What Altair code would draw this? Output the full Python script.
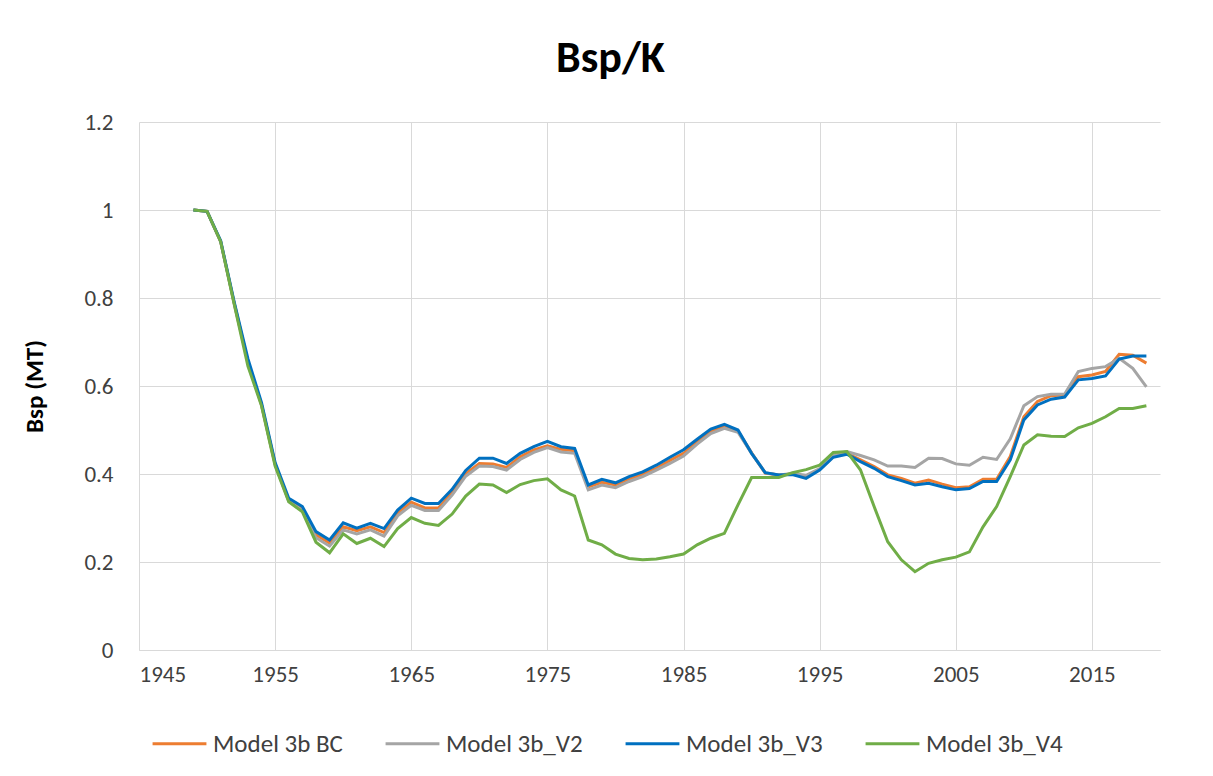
import altair as alt
import pandas as pd

years = list(range(1949, 2020))

series_names = ["Model 3b BC", "Model 3b_V2", "Model 3b_V3", "Model 3b_V4"]
series_colors = ["#ED7D31", "#A5A5A5", "#0070C0", "#70AD47"]

bc = [1.0, 0.997, 0.928, 0.787, 0.655, 0.557, 0.422, 0.34, 0.32, 0.262,
      0.243, 0.28, 0.271, 0.28, 0.267, 0.311, 0.336, 0.323, 0.323, 0.358,
      0.401, 0.424, 0.423, 0.415, 0.439, 0.455, 0.464, 0.456, 0.453, 0.371,
      0.381, 0.375, 0.388, 0.4, 0.413, 0.431, 0.447, 0.473, 0.497, 0.508,
      0.497, 0.448, 0.402, 0.398, 0.4, 0.393, 0.41, 0.44, 0.447, 0.432,
      0.417, 0.398, 0.39, 0.379, 0.386, 0.377, 0.369, 0.371, 0.388, 0.388,
      0.44, 0.53, 0.565, 0.578, 0.58, 0.621, 0.625, 0.633, 0.672, 0.67,
      0.652]

v2 = [1.0, 0.997, 0.928, 0.787, 0.655, 0.557, 0.422, 0.338, 0.317, 0.255,
      0.236, 0.273, 0.264, 0.273, 0.259, 0.305, 0.329, 0.317, 0.317, 0.352,
      0.395, 0.418, 0.417, 0.409, 0.433, 0.449, 0.46, 0.45, 0.447, 0.364,
      0.375, 0.369, 0.383, 0.394, 0.409, 0.424, 0.441, 0.468, 0.492, 0.504,
      0.495, 0.447, 0.403, 0.398, 0.401, 0.397, 0.412, 0.443, 0.451, 0.442,
      0.432, 0.418, 0.418, 0.415, 0.436, 0.435, 0.423, 0.42, 0.438, 0.433,
      0.48, 0.555, 0.576, 0.581, 0.582, 0.633, 0.64, 0.644, 0.663, 0.64,
      0.598]

v3 = [1.0, 0.997, 0.93, 0.79, 0.662, 0.562, 0.426, 0.345, 0.326, 0.269,
      0.25, 0.289, 0.277, 0.288, 0.276, 0.318, 0.345, 0.333, 0.333, 0.365,
      0.408, 0.436, 0.436, 0.424, 0.447, 0.462, 0.474, 0.462, 0.458, 0.375,
      0.388, 0.38, 0.394, 0.405, 0.42, 0.438, 0.455, 0.479, 0.502, 0.513,
      0.5, 0.447, 0.403, 0.398, 0.399, 0.39, 0.409, 0.438, 0.445, 0.428,
      0.413, 0.394, 0.385, 0.375, 0.379, 0.371, 0.364, 0.367, 0.383, 0.383,
      0.432, 0.523, 0.557, 0.57, 0.575, 0.614, 0.617, 0.623, 0.661, 0.668,
      0.668]

v4 = [1.0, 0.997, 0.928, 0.785, 0.645, 0.555, 0.418, 0.337, 0.314, 0.245,
      0.221, 0.264, 0.242, 0.254, 0.235, 0.276, 0.301, 0.288, 0.283, 0.309,
      0.35, 0.377, 0.375, 0.358, 0.376, 0.385, 0.389, 0.364, 0.35, 0.25,
      0.239, 0.218, 0.208, 0.205, 0.207, 0.212, 0.218, 0.239, 0.254, 0.265,
      0.33, 0.392, 0.392, 0.392, 0.403, 0.41, 0.42, 0.449, 0.451, 0.409,
      0.326, 0.246, 0.205, 0.178, 0.197, 0.205, 0.211, 0.223, 0.28, 0.326,
      0.394, 0.466, 0.489, 0.486, 0.485, 0.505, 0.515, 0.53, 0.549, 0.549,
      0.555]

x_ticks = [1945, 1955, 1965, 1975, 1985, 1995, 2005, 2015]
y_ticks = [0, 0.2, 0.4, 0.6, 0.8, 1.0, 1.2]

rows = []
for name, vals in zip(series_names, [bc, v2, v3, v4]):
    for yr, v in zip(years, vals):
        rows.append({"Year": yr, "Bsp": v, "Series": name})
df = pd.DataFrame(rows)

FONT = "Calibri, Carlito, Lato, sans-serif"

chart = alt.Chart(df).mark_line(strokeWidth=3).encode(
    x=alt.X("Year:Q",
            scale=alt.Scale(domain=[1945, 2020], nice=False, zero=False),
            axis=alt.Axis(values=x_ticks, format="d", title=None,
                          ticks=False, labelPadding=13, labelFontSize=23,
                          labelColor="#404040", domainColor="#D9D9D9",
                          gridColor="#D9D9D9", labelFont=FONT)),
    y=alt.Y("Bsp:Q",
            scale=alt.Scale(domain=[0, 1.2], nice=False),
            axis=alt.Axis(values=y_ticks, format=".1~f", title="Bsp (MT)",
                          ticks=False, domain=False, labelPadding=26,
                          labelFontSize=23, labelColor="#404040",
                          gridColor="#D9D9D9", titleFontSize=25,
                          titleFont=FONT, titleFontWeight="bold",
                          titleColor="#000000", titlePadding=36,
                          labelFont=FONT)),
    color=alt.Color("Series:N",
                    scale=alt.Scale(domain=series_names, range=series_colors),
                    legend=alt.Legend(orient="none", legendX=12, legendY=593,
                                      direction="horizontal", title=None,
                                      symbolType="stroke", symbolSize=2900,
                                      symbolStrokeWidth=3, labelFontSize=25,
                                      labelFont=FONT, labelColor="#404040",
                                      labelOffset=5, columnPadding=36,
                                      labelLimit=300)),
    order=alt.Order("Year:Q"),
).properties(
    width=1021,
    height=528,
    title=alt.TitleParams("Bsp/K", fontSize=44, font=FONT, fontWeight="bold",
                          color="#000000", anchor="middle", frame="group",
                          dx=-39, offset=30),
    autosize=alt.AutoSizeParams(type="none"),
    padding={"left": 131, "top": 114, "right": 45, "bottom": 118},
).configure_view(stroke=None)

chart.save("out.html", embed_options={"renderer": "svg", "actions": False})
